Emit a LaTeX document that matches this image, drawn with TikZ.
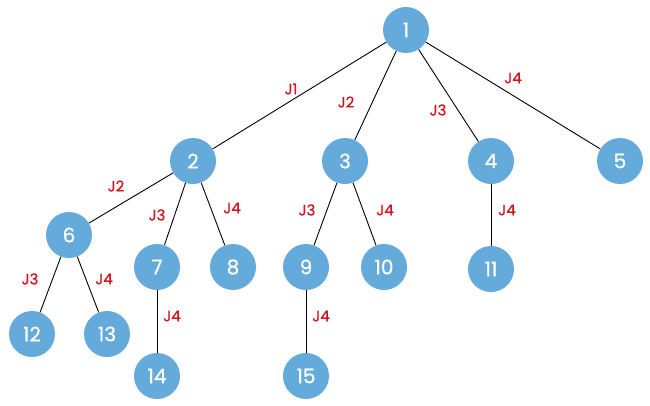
\documentclass[tikz,border=0pt]{standalone}
\usepackage{fontspec}
\setmainfont{Poppins}
\newfontfamily\labfont[FakeBold=0.6]{Poppins}
\definecolor{nodeblue}{HTML}{64AADA}
\definecolor{jred}{HTML}{D2141E}
\begin{document}
\begin{tikzpicture}[x=1pt,y=-1pt,
  tnode/.style={circle,fill=nodeblue,draw=none,minimum size=46pt,inner sep=0pt,text=white,font=\labfont\fontsize{20}{20}\selectfont},
  jlab/.style={text=jred,font=\labfont\fontsize{15}{15}\selectfont,inner sep=0pt},
  edge/.style={draw=black,line width=0.9pt}]
\useasboundingbox (0,0) rectangle (650,405);
\node[tnode] (n1) at (406,30) {1};
\node[tnode] (n2) at (193,161) {2};
\node[tnode] (n3) at (345,161) {3};
\node[tnode] (n4) at (491,161) {4};
\node[tnode] (n5) at (620,161) {5};
\node[tnode] (n6) at (69,235) {6};
\node[tnode] (n7) at (157,267) {7};
\node[tnode] (n8) at (233,267) {8};
\node[tnode] (n9) at (306,267) {9};
\node[tnode] (n10) at (384,267) {10};
\node[tnode] (n11) at (491,269) {11};
\node[tnode] (n12) at (32,334) {12};
\node[tnode] (n13) at (107,334) {13};
\node[tnode] (n14) at (157,376) {14};
\node[tnode] (n15) at (306,376) {15};
\draw[edge] (n1) -- (n2);
\draw[edge] (n1) -- (n3);
\draw[edge] (n1) -- (n4);
\draw[edge] (n1) -- (n5);
\draw[edge] (n2) -- (n6);
\draw[edge] (n2) -- (n7);
\draw[edge] (n2) -- (n8);
\draw[edge] (n3) -- (n9);
\draw[edge] (n3) -- (n10);
\draw[edge] (n4) -- (n11);
\draw[edge] (n6) -- (n12);
\draw[edge] (n6) -- (n13);
\draw[edge] (n7) -- (n14);
\draw[edge] (n9) -- (n15);
\node[jlab] (l1) at (291,89) {J1};
\node[jlab] (l2) at (346,102) {J2};
\node[jlab] (l3) at (438,110) {J3};
\node[jlab] (l4) at (513,78) {J4};
\node[jlab] (l5) at (116,186) {J2};
\node[jlab] (l6) at (157,215) {J3};
\node[jlab] (l7) at (232,208) {J4};
\node[jlab] (l8) at (307,210) {J3};
\node[jlab] (l9) at (385,210) {J4};
\node[jlab] (l10) at (507,210) {J4};
\node[jlab] (l11) at (30,279) {J3};
\node[jlab] (l12) at (104,279) {J4};
\node[jlab] (l13) at (172,316) {J4};
\node[jlab] (l14) at (321,316) {J4};
\end{tikzpicture}
\end{document}
